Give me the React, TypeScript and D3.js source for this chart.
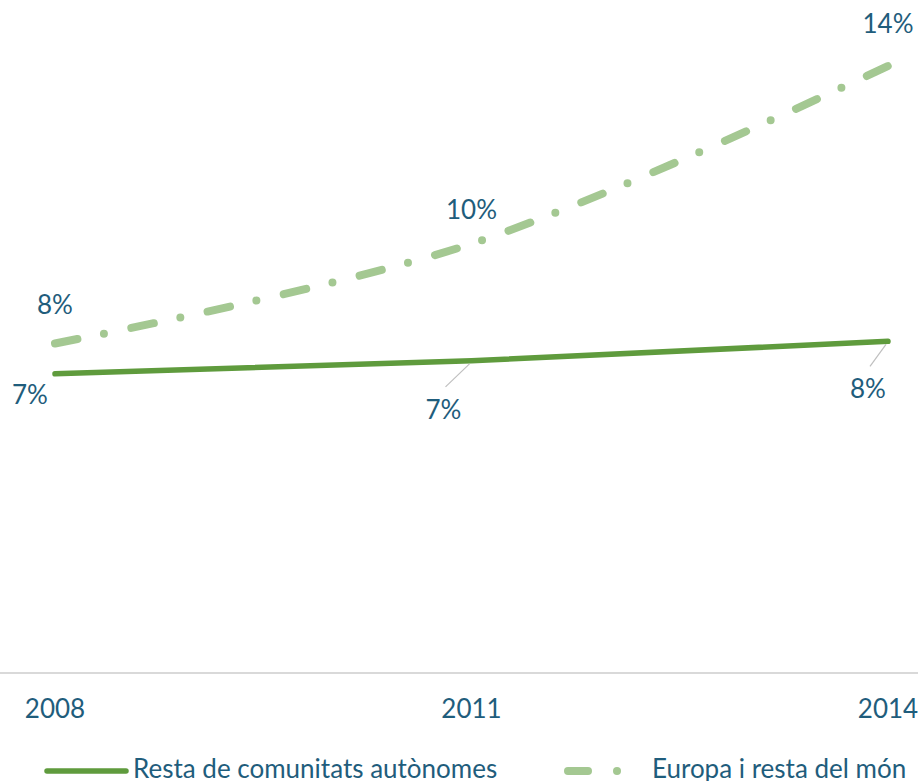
import React from "react";
import * as d3 from "d3";

const years = ["2008", "2011", "2014"];
const restaCA = [6.9, 7.2, 7.65];
const europa = [7.6, 9.9, 14.0];
const restaLabels = ["7%", "7%", "8%"];
const europaLabels = ["8%", "10%", "14%"];
const seriesNames = ["Resta de comunitats autònomes", "Europa i resta del món"];

const W = 918;
const H = 781;
const FONT = "Lato, 'Open Sans', sans-serif";
const TEXT = "#1f5d7c";
const SOLID = "#5f9b3d";
const LIGHT = "#a4c892";

export default function App() {
  const x = d3.scalePoint<string>().domain(years).range([55, 888]);
  const y = d3.scaleLinear().domain([0, 14]).range([673, 66]);

  const solidLine = d3
    .line<number>()
    .x((_, i) => x(years[i]) as number)
    .y((d) => y(d));
  const dashLine = d3
    .line<number>()
    .x((_, i) => x(years[i]) as number)
    .y((d) => y(d))
    .curve(d3.curveCatmullRom.alpha(0.5));

  const europaOff = [
    [0, -29],
    [0, -25],
    [0, -33],
  ];
  const restaOff = [
    [-25, 30],
    [-28, 58],
    [-20, 57],
  ];

  return (
    <svg
      width={W}
      height={H}
      style={{ position: "absolute", left: 0, top: 0, background: "#fff" }}
      fontFamily={FONT}
    >
      <line x1={0} x2={W} y1={y(0)} y2={y(0)} stroke="#d9d9d9" strokeWidth={2} />
      {years.map((yr) => (
        <text
          key={yr}
          x={x(yr) as number}
          y={718}
          textAnchor="middle"
          fontSize={26}
          fill={TEXT}
        >
          {yr}
        </text>
      ))}

      <path
        d={dashLine(europa) || ""}
        fill="none"
        stroke={LIGHT}
        strokeWidth={8}
        strokeLinecap="round"
        strokeDasharray="23 27 0 28"
      />
      <path
        d={solidLine(restaCA) || ""}
        fill="none"
        stroke={SOLID}
        strokeWidth={5.5}
        strokeLinecap="round"
      />

      {[1, 2].map((i) => {
        const px = x(years[i]) as number;
        const py = y(restaCA[i]);
        return (
          <line
            key={"ld" + i}
            x1={px - 2}
            y1={py + 3}
            x2={px + restaOff[i][0] + 2}
            y2={py + restaOff[i][1] - 32}
            stroke="#bfbfbf"
            strokeWidth={1.2}
          />
        );
      })}

      {europa.map((v, i) => (
        <text
          key={"e" + i}
          x={(x(years[i]) as number) + europaOff[i][0]}
          y={y(v) + europaOff[i][1]}
          textAnchor="middle"
          fontSize={26}
          fill={TEXT}
        >
          {europaLabels[i]}
        </text>
      ))}
      {restaCA.map((v, i) => (
        <text
          key={"r" + i}
          x={(x(years[i]) as number) + restaOff[i][0]}
          y={y(v) + restaOff[i][1]}
          textAnchor="middle"
          fontSize={26}
          fill={TEXT}
        >
          {restaLabels[i]}
        </text>
      ))}

      {/* legend */}
      <line x1={47} x2={126} y1={771} y2={771} stroke={SOLID} strokeWidth={5.5} strokeLinecap="round" />
      <text x={133} y={778} fontSize={26} fill={TEXT}>
        {seriesNames[0]}
      </text>
      <line x1={568} x2={588} y1={771} y2={771} stroke={LIGHT} strokeWidth={8} strokeLinecap="round" />
      <circle cx={617} cy={771} r={4} fill={LIGHT} />
      <text x={652} y={778} fontSize={26} fill={TEXT}>
        {seriesNames[1]}
      </text>
    </svg>
  );
}
